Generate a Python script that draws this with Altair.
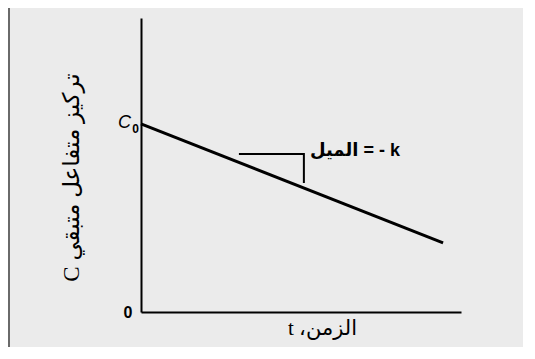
import altair as alt
import pandas as pd

# ---- data ----
t_line = [0.0, 9.44]          # time at start / end of the straight line
c_line = [6.4, 2.35]          # remaining concentration at start / end
tri_t = [3.06, 5.09, 5.09]    # slope-triangle corner times
tri_c = [5.37, 5.37, 4.39]    # slope-triangle corner concentrations
c0_value = [6.4]
y_tick_values = [0]
slope_label = ["الميل = - k"]
slope_pos_t = [5.28]
slope_pos_c = [5.48]
x_title = "t ،الزمن"
y_title = "C تركيز متفاعل متبقي"

line_df = pd.DataFrame({"t": t_line, "c": c_line})
tri_df = pd.DataFrame({"t": tri_t, "c": tri_c, "o": list(range(len(tri_t)))})
c0_df = pd.DataFrame({"t": [0.0], "c": c0_value})
lab_df = pd.DataFrame({"t": slope_pos_t, "c": slope_pos_c, "label": slope_label})

AR_FONT = "Liberation Sans, DejaVu Sans"
SERIF_AR = "Liberation Serif, DejaVu Sans"
BG = "#ebebeb"

xs = alt.Scale(domain=[0, 10], nice=False, zero=True)
ys = alt.Scale(domain=[0, 10], nice=False, zero=True)

X = alt.X("t:Q", scale=xs, axis=alt.Axis(
    title=x_title, ticks=False, labels=False, grid=False, zindex=1,
    domainColor="black", domainWidth=2,
    titleFont=SERIF_AR, titleFontSize=21, titleFontWeight="normal",
    titleColor="black", titleX=181, titleY=16, titleBaseline="middle",
    titleAlign="center"))
Y = alt.Y("c:Q", scale=ys, axis=alt.Axis(
    title=y_title, values=y_tick_values, ticks=False, grid=False, zindex=1,
    domainColor="black", domainWidth=2,
    labelFont="Liberation Sans", labelFontSize=16, labelColor="black",
    labelPadding=9, labelFontWeight=600,
    titleFont=SERIF_AR, titleFontSize=23, titleFontWeight="normal",
    titleColor="black", titleAngle=-90, titleX=-70, titleY=159,
    titleAlign="center", titleBaseline="middle"))

bg = alt.Chart(c0_df).mark_rect(color=BG).encode(
    x=alt.value(-133), x2=alt.value(382), y=alt.value(-10), y2=alt.value(329))

line = alt.Chart(line_df).mark_line(color="black", strokeWidth=3).encode(x=X, y=Y)

tri = alt.Chart(tri_df).mark_line(color="black", strokeWidth=2).encode(
    x=X, y=Y, order="o:O")

c_lab = alt.Chart(c0_df).mark_text(
    text="C", font="Liberation Sans", fontSize=18, fontStyle="italic",
    fontWeight="normal", color="black", align="right", baseline="middle",
    dx=-10, dy=-1).encode(x=X, y=Y)
c_sub = alt.Chart(c0_df).mark_text(
    text="0", font="Liberation Sans", fontSize=12, fontWeight="bold",
    color="black", align="right", baseline="middle",
    dx=-2, dy=5).encode(x=X, y=Y)

slope = alt.Chart(lab_df).mark_text(
    font=AR_FONT, fontSize=18, fontWeight="bold", color="black",
    align="left", baseline="middle").encode(x=X, y=Y, text="label:N")

frame = alt.Chart(c0_df).mark_rule(color="#6a6a6a", strokeWidth=2).encode(
    x=alt.value(-132), y=alt.value(-10), y2=alt.value(330))

chart = alt.layer(bg, frame, line, tri, c_lab, c_sub, slope).properties(
    width=320, height=294,
    autosize=alt.AutoSizeParams(type="none"),
    padding={"left": 133, "top": 10, "right": 62, "bottom": 35},
    background=BG,
).configure(background=BG).configure_view(stroke=None)

chart.save("out.html", embed_options={"renderer": "svg", "actions": False})
